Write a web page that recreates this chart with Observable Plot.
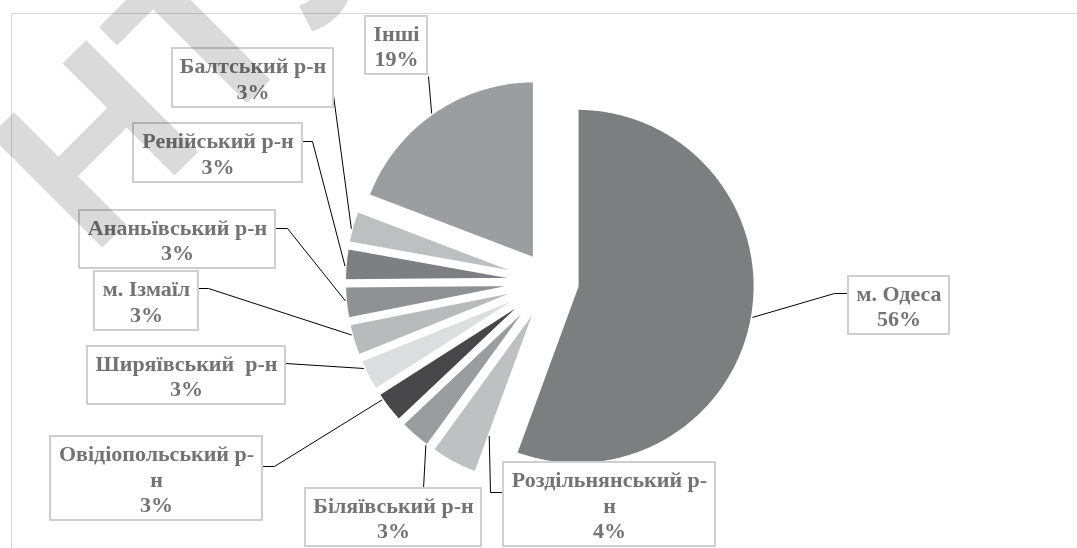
<!DOCTYPE html>
<html>
<head>
<meta charset="utf-8">
<script src="https://cdn.jsdelivr.net/npm/d3@7"></script>
<script src="https://cdn.jsdelivr.net/npm/@observablehq/plot@0.6"></script>
<style>
  html, body { margin: 0; padding: 0; background: #ffffff; }
  #chart svg { display: block; }
</style>
</head>
<body>
<div id="chart"></div>
<script>
// ---------- data ----------
const names = ["м. Одеса", "Роздільнянський р-н", "Біляївський р-н", "Овідіопольський р-н",
  "Ширяївський  р-н", "м. Ізмаїл", "Ананьївський р-н", "Ренійський р-н", "Балтський р-н", "Інші"];
const shares = [55.6, 4.4, 2.97, 2.97, 2.97, 2.97, 2.97, 2.97, 2.98, 19.2];
const pctLabels = ["56%", "4%", "3%", "3%", "3%", "3%", "3%", "3%", "3%", "19%"];
const labelLines = ["м. Одеса", "Роздільнянський р-\nн", "Біляївський р-н", "Овідіопольський р-\nн",
  "Ширяївський  р-н", "м. Ізмаїл", "Ананьївський р-н", "Ренійський р-н", "Балтський р-н", "Інші"];
const sliceColors = ["#7d7e80", "#bfc0c2", "#9a9c9f", "#474749", "#dddee0",
  "#b9babc", "#8f9194", "#7e7f82", "#bebfc1", "#9b9da0"];

// ---------- layout ----------
const W = 1077, H = 548;
const cx = 549.5, cy = 281, R = 178, explode = 27.5;
// label boxes [x1, y1, x2, y2]
const boxes = [
  [848, 276, 949, 334], [503, 462, 715, 546], [305, 488, 481, 546], [50, 436, 262, 520],
  [87, 346, 285, 404], [94, 271, 198, 330], [79, 210, 275, 268], [133, 123, 302, 182],
  [172, 48, 333, 107], [365, 16, 427, 74]
];
// leader line points from box to elbow
const leaderStarts = [
  [[848, 293], [834, 293]], [[503, 492], [490, 492]], [[423, 488]], [[262, 466], [274, 466]],
  [[285, 363]], [[198, 288], [208, 288]], [[275, 228], [287, 228]], [[302, 141], [312, 141]],
  [[333, 95]], [[428, 76]]
];
// where the leader meets the slice: fraction along the arc, fraction of radius
const leaderAnchor = [[0.5, 1], [0.0, 0.78], [0.05, 1], [0.8, 1], [0.74, 1], [0.66, 1],
  [0.55, 1], [0.44, 1], [0.43, 1], [0.49, 1]];

// ---------- geometry ----------
const arcs = d3.pie().sort(null).value(d => d)(shares);
const slicePts = [];
const leaderPts = [];
arcs.forEach((a, i) => {
  const a0 = a.startAngle, a1 = a.endAngle, mid = (a0 + a1) / 2;
  const ax = cx + explode * Math.sin(mid), ay = cy - explode * Math.cos(mid);
  const n = Math.max(6, Math.ceil((a1 - a0) / 0.01));
  slicePts.push({name: names[i], x: ax, y: ay, c: sliceColors[i]});
  for (let k = 0; k <= n; k++) {
    const t = a0 + (a1 - a0) * k / n;
    slicePts.push({name: names[i], x: ax + R * Math.sin(t), y: ay - R * Math.cos(t), c: sliceColors[i]});
  }
  slicePts.push({name: names[i], x: ax, y: ay, c: sliceColors[i]});
  const [ft, fr] = leaderAnchor[i];
  const ang = a0 + (a1 - a0) * ft;
  leaderStarts[i].forEach(p => leaderPts.push({name: names[i], x: p[0], y: p[1]}));
  leaderPts.push({name: names[i], x: ax + fr * R * Math.sin(ang), y: ay - fr * R * Math.cos(ang)});
});

const labelData = names.map((nm, i) => ({
  name: nm, text: labelLines[i] + "\n" + pctLabels[i],
  x1: boxes[i][0], y1: boxes[i][1], x2: boxes[i][2], y2: boxes[i][3]
}));

const watermark = [{x: 91, y: 258, t: "НТУ"}];

const chart = Plot.plot({
  width: W, height: H,
  margin: 0,
  x: {domain: [0, W], range: [0, W], axis: null},
  y: {domain: [0, H], range: [0, H], axis: null},
  color: {type: "identity"},
  style: {background: "#ffffff"},
  marks: [
    Plot.ruleY([13], {x1: 11, x2: W, stroke: "#d9d9d9", strokeWidth: 1}),
    Plot.ruleX([11], {y1: 13, y2: H, stroke: "#d9d9d9", strokeWidth: 1}),
    Plot.line(slicePts, {x: "x", y: "y", z: "name", fill: "c", stroke: "white",
      strokeWidth: 3, strokeLinejoin: "round", curve: "linear"}),
    Plot.line(leaderPts, {x: "x", y: "y", z: "name", stroke: "#000000", strokeWidth: 1,
      strokeLinejoin: "miter", strokeLinecap: "butt", curve: "linear"}),
    Plot.rect(labelData, {x1: "x1", x2: "x2", y1: "y1", y2: "y2", fill: "white",
      stroke: "#cfcfcf", strokeWidth: 2}),
    Plot.text(labelData, {x: d => (d.x1 + d.x2) / 2, y: d => (d.y1 + d.y2) / 2, text: "text",
      fontSize: 22, fontWeight: "bold", fontFamily: "Liberation Serif", fill: "#737373",
      lineHeight: 1.15, lineAnchor: "middle", textAnchor: "middle"}),
    Plot.text(watermark, {x: "x", y: "y", text: "t", rotate: -45, fontSize: 230,
      fontWeight: "bold", fontFamily: "Liberation Sans", fill: "#dadada",
      textAnchor: "start", lineAnchor: "bottom", mixBlendMode: "multiply"})
  ]
});
document.getElementById("chart").appendChild(chart);
</script>
</body>
</html>
